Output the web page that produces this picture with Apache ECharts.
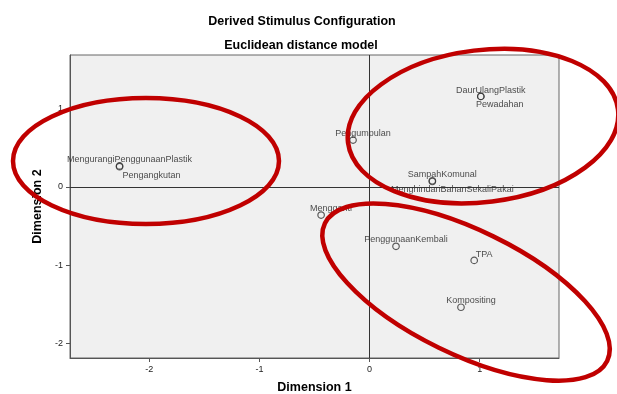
<!DOCTYPE html>
<html>
<head>
<meta charset="utf-8">
<script src="https://cdn.jsdelivr.net/npm/echarts@6/dist/echarts.min.js"></script>
<style>html,body{margin:0;padding:0;background:#fff}#c{width:617px;height:394px}</style>
</head>
<body>
<div id="c"></div>
<script>
// ---- data ----
var stimulusNames = ["MengurangiPenggunaanPlastik","Pengangkutan","Pengumpulan","DaurUlangPlastik","Pewadahan","SampahKomunal","MenghindariBahanSekaliPakai","Mengganti","PenggunaanKembali","TPA","Kompositing"];
var dimension1 = [-2.27, -2.27, -0.15, 1.01, 1.01, 0.57, 0.57, -0.44, 0.24, 0.95, 0.83];
var dimension2 = [0.27, 0.26, 0.60, 1.16, 1.16, 0.08, 0.07, -0.36, -0.76, -0.94, -1.54];
var xTicks = [-2, -1, 0, 1];
var yTicks = [-2, -1, 0, 1];
// annotation ellipse centres (data coords)
var ellipseCentersX = [-2.03, 1.03, 0.876];
var ellipseCentersY = [0.333, 0.78, -1.346];

// ---- styles ----
var belowLabels = { "Pengangkutan": 32, "Pewadahan": 19, "MenghindariBahanSekaliPakai": 20 };
var ellipseShapes = [
  { rx: 133, ry: 63, rot: 0 },
  { rx: 136, ry: 76, rot: 7 },
  { rx: 157, ry: 62, rot: -26 }
];

var points = stimulusNames.map(function (n, i) {
  var below = belowLabels.hasOwnProperty(n);
  return {
    name: n,
    value: [dimension1[i], dimension2[i]],
    label: below ? { position: 'bottom', distance: 0, offset: [belowLabels[n], 0] }
                 : { position: 'top', distance: 0, offset: [10, 2] }
  };
});

var chart = echarts.init(document.getElementById('c'));
var axisCommon = {
  type: 'value',
  nameLocation: 'middle',
  nameTextStyle: { fontFamily: 'Liberation Sans, Arial', fontWeight: 'bold', fontSize: 12.5, color: '#000' },
  axisLine: { show: true, onZero: false, lineStyle: { color: '#555', width: 1 } },
  axisTick: { show: true, inside: false, length: 4, lineStyle: { color: '#555' } },
  axisLabel: { fontFamily: 'Liberation Sans, Arial', fontSize: 9, color: '#222', margin: 7 },
  splitLine: { show: false }
};
var titleStyle = { fontFamily: 'Liberation Sans, Arial', fontWeight: 'bold', fontSize: 12.5, color: '#000' };
chart.setOption({
  animation: false,
  title: [
    { text: 'Derived Stimulus Configuration', left: 297, top: 10, textAlign: 'center', textStyle: titleStyle },
    { text: 'Euclidean distance model', left: 296, top: 34, textAlign: 'center', textStyle: titleStyle }
  ],
  grid: { left: 70, top: 55, right: 58, bottom: 36, outerBoundsMode: 'none', containLabel: false,
          show: true, backgroundColor: '#f0f0f0', borderColor: '#666', borderWidth: 1 },
  xAxis: echarts.util.merge(echarts.util.clone(axisCommon), {
    name: 'Dimension 1', nameGap: 23, min: -2.72, max: 1.72,
    axisTick: { customValues: xTicks },
    axisLabel: { customValues: xTicks }
  }),
  yAxis: echarts.util.merge(echarts.util.clone(axisCommon), {
    name: 'Dimension 2', nameGap: 18, min: -2.19, max: 1.69,
    axisTick: { customValues: yTicks },
    axisLabel: { customValues: yTicks }
  }),
  series: [{
    type: 'scatter',
    data: points,
    symbol: 'circle',
    symbolSize: 6.5,
    itemStyle: { color: 'rgba(0,0,0,0)', borderColor: '#333', borderWidth: 1.2 },
    label: { show: true, formatter: '{b}', fontFamily: 'Liberation Sans, Arial', fontSize: 9, color: '#222' },
    markLine: {
      silent: true, symbol: 'none', animation: false,
      label: { show: false },
      lineStyle: { color: '#333', width: 1, type: 'solid' },
      data: [{ xAxis: 0 }, { yAxis: 0 }]
    },
    z: 3
  }]
});

var graphics = ellipseShapes.map(function (s, i) {
  var p = chart.convertToPixel({ gridIndex: 0 }, [ellipseCentersX[i], ellipseCentersY[i]]);
  return {
    type: 'ellipse', x: p[0], y: p[1], rotation: s.rot * Math.PI / 180,
    shape: { cx: 0, cy: 0, rx: s.rx, ry: s.ry },
    style: { fill: 'none', stroke: '#c00000', lineWidth: 4.5 },
    z: 100, silent: true
  };
});
chart.setOption({ graphic: graphics });
</script>
</body>
</html>
